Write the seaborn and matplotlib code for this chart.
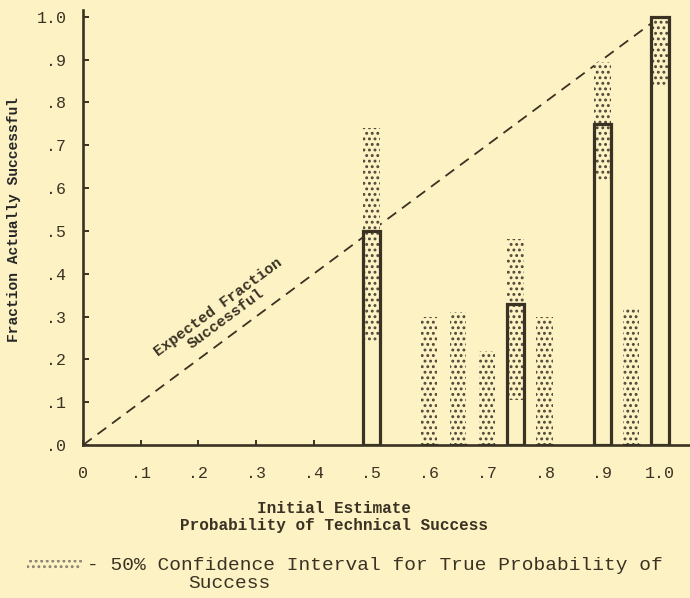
"""Calibration of initial estimates of technical success vs. fraction actually successful."""
import matplotlib.pyplot as plt
import pandas as pd
import seaborn as sns
from matplotlib.patches import Rectangle

# data
estimate = [0.50, 0.60, 0.65, 0.70, 0.75, 0.80, 0.90, 0.95, 1.00]
actual = [0.50, 0.0, 0.0, 0.0, 0.33, 0.0, 0.75, 0.0, 1.00]
ci_low = [0.24, 0.0, 0.0, 0.0, 0.105, 0.0, 0.62, 0.0, 0.835]
ci_high = [0.74, 0.30, 0.31, 0.22, 0.48, 0.30, 0.895, 0.32, 1.00]
expected_x = [0.0, 1.0]
expected_y = [0.0, 1.0]
y_ticks = [0.0, 0.1, 0.2, 0.3, 0.4, 0.5, 0.6, 0.7, 0.8, 0.9, 1.0]
y_labels = [".0", ".1", ".2", ".3", ".4", ".5", ".6", ".7", ".8", ".9", "1.0"]
x_ticks = [0.0, 0.1, 0.2, 0.3, 0.4, 0.5, 0.6, 0.7, 0.8, 0.9, 1.0]
x_labels = ["0", ".1", ".2", ".3", ".4", ".5", ".6", ".7", ".8", ".9", "1.0"]

BG = "#fcf2c4"
INK = "#3a3222"
DOT = "#4e4636"
MONO = ["Liberation Mono", "DejaVu Sans Mono"]

sns.set_style("ticks")
plt.rcParams["font.family"] = MONO
plt.rcParams["hatch.linewidth"] = 1.3
plt.rcParams["text.color"] = INK

df = pd.DataFrame({"estimate": estimate, "actual": actual,
                   "ci_low": ci_low, "ci_high": ci_high})

fig = plt.figure(figsize=(6.9, 5.98), dpi=100, facecolor=BG)
ax = fig.add_axes([83 / 690, 1 - 445 / 598, 1 - 83 / 690, (445 - 10) / 598])
ax.set_facecolor(BG)

# expected fraction (diagonal)
sns.lineplot(x=expected_x, y=expected_y, ax=ax, color=INK, lw=1.3,
             linestyle=(0, (6, 4)), zorder=1)

# 50% confidence intervals: dotted bars up to ci_high, masked below ci_low
sns.barplot(data=df, x="estimate", y="ci_high", native_scale=True, width=0.575,
            color=BG, edgecolor=DOT, linewidth=0, hatch="...", saturation=1,
            errorbar=None, ax=ax, zorder=2)
sns.barplot(data=df, x="estimate", y="ci_low", native_scale=True, width=0.6,
            color=BG, edgecolor=BG, linewidth=0, saturation=1,
            errorbar=None, ax=ax, zorder=2.5)
# actual fraction successful: open bars
sns.barplot(data=df, x="estimate", y="actual", native_scale=True, width=0.59,
            fill=False, color=INK, linewidth=2.3, saturation=1,
            errorbar=None, ax=ax, zorder=3)

ax.set_xlim(0, 1.052)
ax.set_ylim(0, 1.016)
ax.set_yticks(y_ticks)
ax.set_yticklabels(y_labels)
ax.set_xticks(x_ticks)
ax.set_xticklabels(x_labels)
ax.tick_params(axis="y", direction="in", length=4.5, width=1.4, pad=12,
               labelsize=12, colors=INK)
ax.tick_params(axis="x", direction="in", length=3.5, width=1.4, pad=15,
               labelsize=12, colors=INK)
for side in ("top", "right"):
    ax.spines[side].set_visible(False)
for side in ("left", "bottom"):
    ax.spines[side].set_linewidth(1.9)
    ax.spines[side].set_color(INK)

ax.set_xlabel("")
ax.set_ylabel("Fraction Actually Successful", fontsize=10.5, fontweight="bold")
ax.yaxis.set_label_coords((21 - 83) / 607, (445 - 219) / 435)

ax.text(0.241, 0.308, "Expected Fraction\nSuccessful", rotation=36.5,
        ha="center", va="center", fontsize=11, fontweight="bold",
        rotation_mode="anchor", linespacing=1.0)

fig.text(334 / 690, 1 - 517 / 598, "Initial Estimate\nProbability of Technical Success",
         ha="center", va="center", fontsize=11.5, fontweight="bold", linespacing=1.2)

# legend
fig.patches.append(Rectangle((27 / 690, 1 - 570 / 598), 55 / 690, 10 / 598,
                             transform=fig.transFigure, facecolor=BG,
                             edgecolor="#8a8070", lw=0, hatch="..."))
fig.text(87 / 690, 1 - 565 / 598, "- 50% Confidence Interval for True Probability of",
         ha="left", va="center", fontsize=14)
fig.text(188 / 690, 1 - 583 / 598, "Success", ha="left", va="center", fontsize=14)

fig.savefig("out.png", dpi=100, facecolor=BG)
